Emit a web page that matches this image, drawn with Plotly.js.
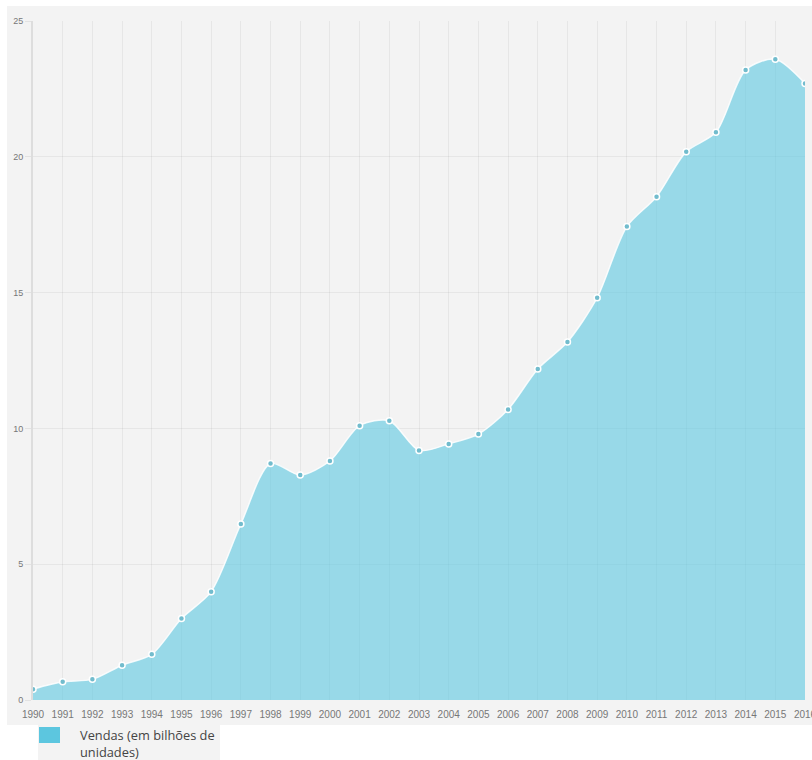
<!DOCTYPE html>
<html>
<head>
<meta charset="utf-8">
<script src="https://cdn.plot.ly/plotly-3.0.1.min.js"></script>
<style>
  html, body { margin: 0; padding: 0; background: #ffffff; }
  #chart { width: 812px; height: 760px; }
</style>
</head>
<body>
<div id="chart"></div>
<script>
// Annual sales, billions of units
const years = [1990, 1991, 1992, 1993, 1994, 1995, 1996, 1997, 1998, 1999,
               2000, 2001, 2002, 2003, 2004, 2005, 2006, 2007, 2008, 2009,
               2010, 2011, 2012, 2013, 2014, 2015, 2016];
const sales = [0.40, 0.67, 0.76, 1.28, 1.68, 3.00, 3.99, 6.48, 8.71, 8.28,
               8.80, 10.10, 10.28, 9.19, 9.43, 9.79, 10.70, 12.19, 13.18, 14.81,
               17.43, 18.53, 20.19, 20.90, 23.20, 23.59, 22.70];
const yTicks = [0, 5, 10, 15, 20, 25];
const seriesName = 'Vendas (em bilhões de<br>unidades)';

const W = 812, H = 760;
const M = { l: 33, r: 7, t: 21, b: 60 };
const plotW = W - M.l - M.r, plotH = H - M.t - M.b;
// pixel -> paper coordinates, for the decorations around the plot
const px = x => (x - M.l) / plotW;
const py = y => (H - M.b - y) / plotH;

const swatchColor = '#5cc6df';

const trace = {
  type: 'scatter',
  x: years,
  y: sales,
  mode: 'lines+markers',
  line: { shape: 'spline', smoothing: 0.8, color: 'rgba(255,255,255,0.85)', width: 1.5 },
  marker: { size: 6, color: '#72bccd', line: { color: '#ffffff', width: 1.5 } },
  fill: 'tozeroy',
  fillcolor: 'rgba(92,200,225,0.6)',
  showlegend: false,
  hoverinfo: 'x+y'
};

const layout = {
  width: W,
  height: H,
  margin: M,
  paper_bgcolor: '#ffffff',
  plot_bgcolor: '#f3f3f3',
  font: { family: 'Liberation Sans, Arial, sans-serif', color: '#777777', size: 10 },
  showlegend: false,
  xaxis: {
    range: [1990, 2016],
    tickvals: years,
    ticktext: years.map(String),
    showgrid: true,
    gridcolor: 'rgba(0,0,0,0.05)',
    gridwidth: 1,
    zeroline: false,
    showline: false,
    ticks: 'outside',
    ticklen: 5,
    tickcolor: 'rgba(0,0,0,0)',
    ticklabeloverflow: 'allow',
    tickfont: { size: 10, color: '#777777' },
    fixedrange: true
  },
  yaxis: {
    range: [0, 25],
    tickvals: yTicks,
    showgrid: true,
    gridcolor: 'rgba(0,0,0,0.05)',
    zeroline: false,
    showline: true,
    linecolor: '#dddddd',
    linewidth: 2,
    ticks: 'outside',
    ticklen: 6,
    tickcolor: '#e2e2e2',
    tickfont: { size: 9, color: '#777777' },
    fixedrange: true
  },
  shapes: [
    // grey panel behind plot and axis labels
    { type: 'rect', xref: 'paper', yref: 'paper', layer: 'below',
      x0: px(7), x1: px(W), y0: py(725), y1: py(6),
      fillcolor: '#f3f3f3', line: { width: 0 } },
    // legend panel
    { type: 'rect', xref: 'paper', yref: 'paper', layer: 'below',
      x0: px(38), x1: px(220), y0: py(760), y1: py(725),
      fillcolor: '#f3f3f3', line: { width: 0 } },
    // legend swatch
    { type: 'rect', xref: 'paper', yref: 'paper', layer: 'above',
      x0: px(39), x1: px(60), y0: py(743), y1: py(727),
      fillcolor: swatchColor, line: { width: 0 } }
  ],
  annotations: [
    { xref: 'paper', yref: 'paper', x: px(79), y: py(725),
      xanchor: 'left', yanchor: 'top', align: 'left', showarrow: false,
      borderpad: 0,
      text: seriesName,
      font: { family: 'Open Sans, sans-serif', size: 12.8, color: '#444444' } }
  ]
};

Plotly.newPlot('chart', [trace], layout, { displayModeBar: false, staticPlot: true });
</script>
</body>
</html>
